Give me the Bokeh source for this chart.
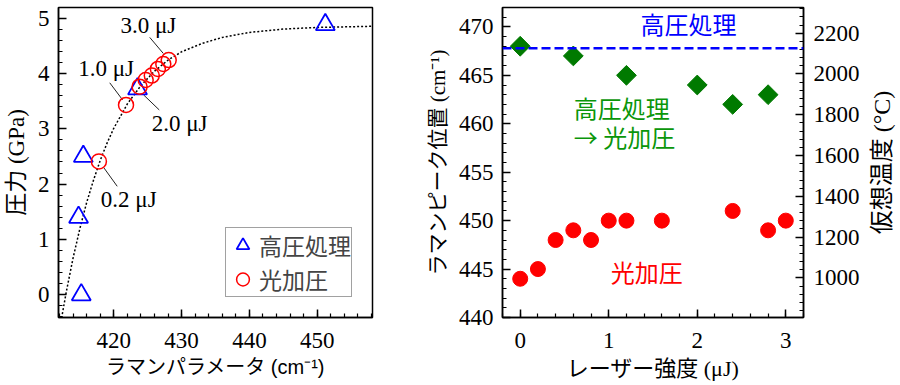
import math
from bokeh.plotting import figure
from bokeh.models import (Range1d, LinearAxis, SingleIntervalTicker, Span,
                          Legend, LegendItem)
from bokeh.layouts import row
from bokeh.embed import file_html
from bokeh.resources import INLINE
from bokeh.core.properties import value

# ---------------- left panel data ----------------
hp_raman = [415.2, 414.8, 415.5, 423.5, 451.2]          # 高圧処理 (triangles)
hp_pressure = [0.0, 1.4, 2.5, 3.72, 4.88]
lp_raman = [417.8, 421.8, 423.8, 424.7, 425.6, 426.5, 427.3, 428.1]   # 光加圧 (circles)
lp_pressure = [2.41, 3.43, 3.76, 3.88, 3.96, 4.08, 4.17, 4.24]
fit_raman = [412.3, 413, 414, 415, 416, 417, 418, 419, 420, 422, 424, 426,
             428, 430, 433, 436, 440, 445, 450, 458]
fit_pressure = [-0.42, 0.06, 0.67, 1.20, 1.67, 2.07, 2.43, 2.74, 3.01, 3.45,
                3.78, 4.04, 4.24, 4.39, 4.54, 4.65, 4.74, 4.80, 4.83, 4.85]
energy_labels = ["0.2 μJ", "1.0 μJ", "2.0 μJ", "3.0 μJ"]
energy_label_x = [422.2, 418.85, 429.7, 425.1]
energy_label_y = [1.73, 4.09, 3.09, 4.86]
leader_x0 = [418.5, 419.4, 424.4, 425.3]
leader_y0 = [2.30, 3.83, 3.61, 4.65]
leader_x1 = [420.5, 421.3, 426.7, 427.3]
leader_y1 = [1.96, 3.52, 3.34, 4.36]

# ---------------- right panel data ----------------
laser_lp = [0, 0.2, 0.4, 0.6, 0.8, 1.0, 1.2, 1.6, 2.4, 2.8, 3.0]
raman_lp = [444, 445, 448, 449, 448, 450, 450, 450, 451, 449, 450]
laser_hp = [0, 0.6, 1.2, 2.0, 2.4, 2.8]
raman_hp = [468, 467, 465, 464, 462, 463]
hp_reference = 467.8
raman_range = (440, 472)
temp_range = (806, 2326)

SERIF_CJK = "Liberation Serif, Noto Sans CJK JP"
SANS_CJK = "Liberation Sans, Noto Sans CJK JP"
CJK = "Noto Sans CJK JP"


def style_axis(ax):
    ax.axis_line_color = "black"
    ax.axis_line_width = 1.5
    ax.major_tick_in = 8
    ax.major_tick_out = 0
    ax.minor_tick_in = 4
    ax.minor_tick_out = 0
    ax.major_tick_line_color = "black"
    ax.minor_tick_line_color = "black"
    ax.major_tick_line_width = 1.5
    ax.minor_tick_line_width = 1.2
    ax.major_label_text_font = "Liberation Serif"
    ax.major_label_text_font_size = "23px"
    ax.major_label_text_color = "black"
    ax.major_label_standoff = 9
    ax.axis_label_text_font_style = "normal"
    ax.axis_label_text_color = "black"
    ax.axis_label_standoff = 6


# ================= left figure =================
p1 = figure(width=396, height=383,
            x_range=Range1d(411.84, 458.16), y_range=Range1d(-0.41, 5.19),
            output_backend="svg", toolbar_location=None,
            min_border_left=58, min_border_right=24,
            min_border_top=7, min_border_bottom=63)
p1.grid.visible = False
p1.outline_line_color = "black"
p1.outline_line_width = 1.5
p1.xaxis.ticker = SingleIntervalTicker(interval=10, num_minor_ticks=5)
p1.yaxis.ticker = SingleIntervalTicker(interval=1, num_minor_ticks=5)
for ax in list(p1.xaxis) + list(p1.yaxis):
    style_axis(ax)
p1.xaxis.major_label_standoff = 15
p1.xaxis.axis_label = "ラマンパラメータ (cm⁻¹)"
p1.xaxis.axis_label_text_font = SANS_CJK
p1.xaxis.axis_label_text_font_size = "20px"
p1.xaxis.axis_label_standoff = 5
p1.yaxis.axis_label = "圧力 (GPa)"
p1.yaxis.axis_label_text_font = SERIF_CJK
p1.yaxis.axis_label_text_font_size = "23px"

p1.line(fit_raman, fit_pressure, line_color="black", line_width=1.5,
        line_dash="2 2")
p1.segment(leader_x0, leader_y0, leader_x1, leader_y1,
           line_color="#222222", line_width=1)
r_hp = p1.scatter(hp_raman, hp_pressure, marker="triangle", size=19,
                  fill_color=None, line_color="#0000ff", line_width=1.8)
r_lp = p1.scatter(lp_raman, lp_pressure, marker="circle", size=15,
                  fill_color=None, line_color="#ff0000", line_width=1.5)
p1.text(energy_label_x, energy_label_y, text=energy_labels,
        text_font=value("Liberation Serif"), text_font_size="23px",
        text_align="center", text_baseline="middle", text_color="black")

legend = Legend(items=[LegendItem(label="高圧処理", renderers=[r_hp]),
                       LegendItem(label="光加圧", renderers=[r_lp])],
                location="bottom_right")
legend.border_line_color = "#444444"
legend.border_line_width = 1
legend.padding = 0
legend.margin = 20
legend.spacing = 0
legend.glyph_width = 33
legend.glyph_height = 32
legend.label_standoff = -3
legend.label_text_font = CJK
legend.label_text_font_size = "23px"
legend.background_fill_alpha = 1
p1.add_layout(legend)

# ================= right figure =================
p2 = figure(width=469, height=383,
            x_range=Range1d(-0.2, 3.2), y_range=Range1d(*raman_range),
            output_backend="svg", toolbar_location=None,
            min_border_left=106, min_border_right=62,
            min_border_top=7, min_border_bottom=63)
p2.grid.visible = False
p2.outline_line_color = "black"
p2.outline_line_width = 1.5
p2.extra_y_ranges = {"temp": Range1d(*temp_range)}
p2.xaxis.ticker = SingleIntervalTicker(interval=1, num_minor_ticks=5)
p2.yaxis.ticker = SingleIntervalTicker(interval=5, num_minor_ticks=5)
ax_r = LinearAxis(y_range_name="temp",
                  ticker=SingleIntervalTicker(interval=200, num_minor_ticks=5))
p2.add_layout(ax_r, "right")
for ax in list(p2.xaxis) + list(p2.yaxis):
    style_axis(ax)
p2.xaxis.major_label_standoff = 15
p2.xaxis.axis_label = "レーザー強度 (μJ)"
p2.xaxis.axis_label_text_font = SERIF_CJK
p2.xaxis.axis_label_text_font_size = "22px"
p2.xaxis.axis_label_standoff = 5
p2.yaxis[0].axis_label = "ラマンピーク位置 (cm⁻¹)"
p2.yaxis[0].axis_label_text_font = SERIF_CJK
p2.yaxis[0].axis_label_text_font_size = "21px"
ax_r.major_label_standoff = 10

p2.add_layout(Span(location=hp_reference, dimension="width",
                   line_color="#0000ff", line_dash="9 4", line_width=2.5))
p2.scatter(laser_hp, raman_hp, marker="square", angle=math.pi / 4, size=14,
           fill_color="#007a00", line_color="#007a00")
p2.scatter(laser_lp, raman_lp, marker="circle", size=15,
           fill_color="#ff0000", line_color="#ff0000")

p2.text([1.90], [470.4], text=["高圧処理"], text_font=value(CJK),
        text_font_size="24px", text_align="center", text_baseline="middle",
        text_color="#0000ff")
p2.text([0.605, 0.605], [461.7, 458.7], text=["高圧処理", "→ 光加圧"],
        text_font=value(CJK), text_font_size="24px", text_align="left",
        text_baseline="middle", text_color="#0a960a")
p2.text([1.43], [444.7], text=["光加圧"], text_font=value(CJK),
        text_font_size="24px", text_align="center", text_baseline="middle",
        text_color="#ff0000")

# ======= strip holding the right-axis title (reads bottom-to-top) =======
p3 = figure(width=33, height=383, x_range=Range1d(0, 1),
            y_range=Range1d(*raman_range),
            x_axis_location=None, y_axis_location=None,
            output_backend="svg", toolbar_location=None,
            min_border_left=0, min_border_right=0,
            min_border_top=7, min_border_bottom=63)
p3.grid.visible = False
p3.outline_line_color = None
p3.text([0.5], [sum(raman_range) / 2], text=["仮想温度 (°C)"],
        angle=math.pi / 2, text_font=value(SERIF_CJK), text_font_size="24px",
        text_align="center", text_baseline="middle", text_color="black")

layout = row(p1, p2, p3)
open("out.html", "w").write(file_html(layout, INLINE))
